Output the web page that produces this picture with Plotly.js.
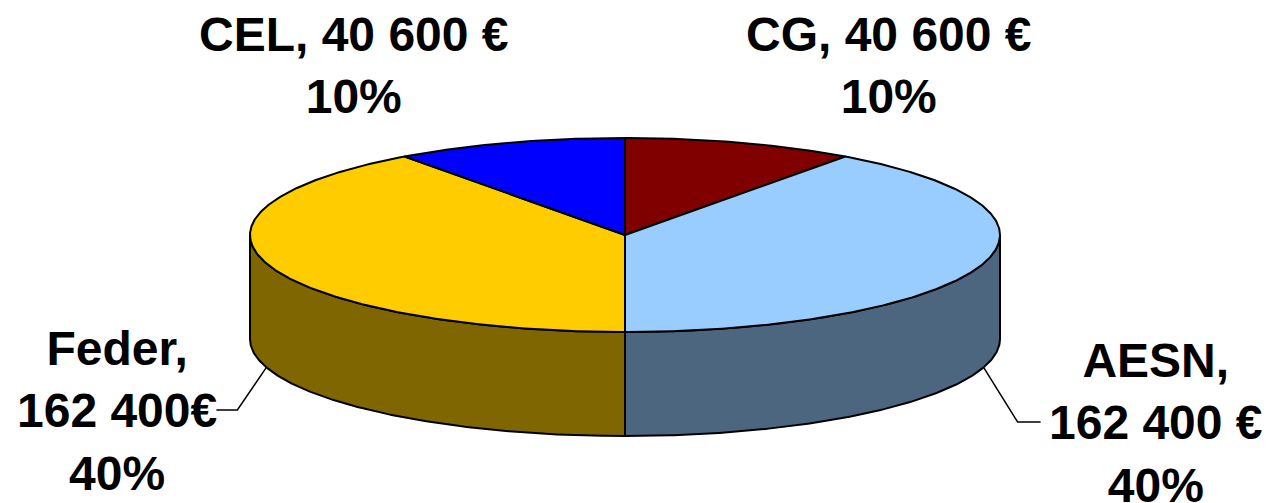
<!DOCTYPE html>
<html>
<head>
<meta charset="utf-8">
<script src="https://cdn.plot.ly/plotly-3.0.1.min.js"></script>
<style>html,body{margin:0;padding:0;background:#fff;}#chart{width:1271px;height:503px;}</style>
</head>
<body>
<div id="chart"></div>
<script>
// ---- data ----
const labels = ['CG', 'AESN', 'Feder', 'CEL'];
const values = [40600, 162400, 162400, 40600];
const valueText = ['40 600 €', '162 400 €', '162 400€', '40 600 €'];
const percentText = ['10%', '40%', '40%', '10%'];
const topColors = ['#800000', '#99CCFF', '#FFCC00', '#0000FF'];
const sideColors = ['#4D0000', '#4D6680', '#806600', '#000080'];

// ---- geometry (layout) ----
const W = 1271, H = 503;
const cx = 625, cy = 235, rx = 375, ry = 97, depth = 104;
const startAngle = 90; // degrees, clockwise
const rad = d => d * Math.PI / 180;
const px = t => cx + rx * Math.cos(rad(t));
const py = t => cy - ry * Math.sin(rad(t));

const total = values.reduce((a, b) => a + b, 0);
const traces = [];
const sideTraces = [];
const topTraces = [];
let a = startAngle;
const sliceAngles = [];
values.forEach((v, i) => {
  const sweep = 360 * v / total;
  const b = a - sweep;
  sliceAngles.push([a, b]);
  // side (front half: -180..0)
  [-360, 0, 360].forEach(k => {
    const lo = Math.max(b, -180 + k), hi = Math.min(a, k);
    if (lo < hi) {
      const xs = [], ys = [];
      const n = Math.max(8, Math.ceil((hi - lo) * 2));
      for (let j = 0; j <= n; j++) { const t = hi - (hi - lo) * j / n; xs.push(px(t)); ys.push(py(t)); }
      for (let j = n; j >= 0; j--) { const t = hi - (hi - lo) * j / n; xs.push(px(t)); ys.push(py(t) + depth); }
      xs.push(xs[0]); ys.push(ys[0]);
      sideTraces.push({x: xs, y: ys, type: 'scatter', mode: 'lines', fill: 'toself',
        fillcolor: sideColors[i], line: {color: '#000', width: 2}, hoverinfo: 'skip', showlegend: false});
    }
  });
  // top
  const xs = [cx], ys = [cy];
  const n = Math.max(8, Math.ceil(sweep * 2));
  for (let j = 0; j <= n; j++) { const t = a - sweep * j / n; xs.push(px(t)); ys.push(py(t)); }
  xs.push(cx); ys.push(cy);
  topTraces.push({x: xs, y: ys, type: 'scatter', mode: 'lines', fill: 'toself',
    fillcolor: topColors[i], line: {color: '#000', width: 2}, hoverinfo: 'skip', showlegend: false});
  a = b;
});

// leader lines for the large slices (anchored on the bottom edge of the side)
const leaderOffset = 17;
function leader(t, elbowDx, elbowY, endDx) {
  const x0 = px(t), y0 = py(t) + depth;
  const x1 = x0 + elbowDx;
  return {x: [x0, x1, x1 + endDx], y: [y0, elbowY, elbowY], type: 'scatter', mode: 'lines',
    line: {color: '#000', width: 1.5}, hoverinfo: 'skip', showlegend: false};
}
const leaders = [
  leader(-leaderOffset, 34, 422, 23),        // AESN
  leader(180 + leaderOffset, -29, 410, -21)  // Feder
];

const font = {family: '"Liberation Sans", Arial, sans-serif', size: 48, color: '#000', weight: 'bold'};
const labelPos = [
  {x: 889, y: 65, two: true},
  {x: 1156, y: 423, two: false},
  {x: 117, y: 411, two: false},
  {x: 354, y: 65, two: true}
];
const annotations = labels.map((l, i) => ({
  x: labelPos[i].x, y: labelPos[i].y, xref: 'x', yref: 'y', showarrow: false,
  xanchor: 'center', yanchor: 'middle', align: 'center', font: font,
  text: labelPos[i].two ? `${l}, ${valueText[i]}<br>${percentText[i]}` : `${l},<br>${valueText[i]}<br>${percentText[i]}`
}));

const layout = {
  width: W, height: H, margin: {l: 0, r: 0, t: 0, b: 0},
  paper_bgcolor: '#fff', plot_bgcolor: '#fff', showlegend: false,
  xaxis: {range: [0, W], visible: false, fixedrange: true},
  yaxis: {range: [H, 0], visible: false, fixedrange: true},
  annotations: annotations
};
Plotly.newPlot('chart', sideTraces.concat(topTraces, leaders), layout, {displayModeBar: false, staticPlot: true});
</script>
</body>
</html>
